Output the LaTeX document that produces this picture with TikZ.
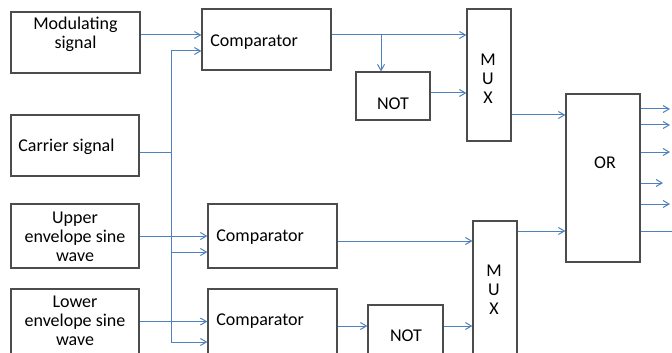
\documentclass[tikz,border=0pt]{standalone}
\usepackage{fontspec}
\setmainfont{Carlito}
\usetikzlibrary{arrows.meta}
\definecolor{wireblue}{RGB}{79,129,189}
\tikzset{
  blk/.style={draw=black!70, line width=0.65pt, inner sep=0pt},
  txt/.style={font=\fontsize{9}{9.5}\selectfont, inner sep=0pt, align=center},
  wire/.style={draw=wireblue, line width=0.5pt},
  >={Straight Barb[length=3pt,width=3.5pt]}
}
\begin{document}
\begin{tikzpicture}[x=0.5pt, y=-0.5pt]
    \useasboundingbox (0,0) rectangle (672,352);
    % sources
    \node[blk, minimum width=64.5pt, minimum height=30.5pt] (mod) at (75.5,42.5) {};
    \node[blk, minimum width=64pt, minimum height=30.5pt] (car) at (75,145.5) {};
    \node[blk, minimum width=64pt, minimum height=32pt] (upp) at (75,236) {};
    \node[blk, minimum width=64pt, minimum height=32.5pt] (low) at (75,321.5) {};
    \node[txt] at (75.5,34.5) {Modulating\\signal};
    \node[txt, anchor=mid west] at (18,147) {Carrier signal};
    \node[txt] at (75,237) {Upper\\envelope sine\\wave};
    \node[txt] at (75,321) {Lower\\envelope sine\\wave};
    % comparators
    \node[blk, minimum width=64.5pt, minimum height=30.5pt] (cmp1) at (266.5,39.5) {};
    \node[blk, minimum width=64.5pt, minimum height=32pt] (cmp2) at (272.5,236) {};
    \node[blk, minimum width=64.5pt, minimum height=32.5pt] (cmp3) at (272.5,321.5) {};
    \node[txt, anchor=mid west] at (210,42) {Comparator};
    \node[txt, anchor=mid west] at (216,237) {Comparator};
    \node[txt, anchor=mid west] at (216,321) {Comparator};
    % not gates, muxes, or
    \node[blk, minimum width=37pt, minimum height=24pt] (not1) at (393,96) {};
    \node[blk, minimum width=37.5pt, minimum height=24.5pt] (not2) at (405.5,329.5) {};
    \node[txt, anchor=mid] at (393,105) {NOT};
    \node[txt, anchor=mid] at (406,337) {NOT};
    \node[blk, minimum width=22pt, minimum height=66pt] (mux1) at (489,75) {};
    \node[blk, minimum width=22pt, minimum height=66.5pt] (mux2) at (495,287.5) {};
    \node[txt] at (488,79) {M\\U\\X};
    \node[txt] at (494,290) {M\\U\\X};
    \node[blk, minimum width=37pt, minimum height=84pt] (or) at (603,178) {};
    \node[txt, anchor=mid] at (605,164) {OR};

    % inputs
    \draw[wire,->] ([yshift=3.75pt]mod.east) -- ([yshift=3.75pt]mod.east -| cmp1.west);
    \coordinate (bus) at (171,152);
    \draw[wire] ([yshift=-3.25pt]car.east) -- (bus);
    \draw[wire,->] (bus) |- ([yshift=-5.75pt]cmp1.west);
    \draw[wire,->] (bus) |- ([yshift=-8pt]cmp2.west);
    \draw[wire,->] (bus) |- ([yshift=-10.25pt]cmp3.west);
    \draw[wire,->] (upp.east) -- (upp.east -| cmp2.west);
    \draw[wire,->] (low.east) -- (low.east -| cmp3.west);

    % upper path
    \draw[wire,->] ([yshift=2.25pt]cmp1.east) -- ([yshift=2.25pt]cmp1.east -| mux1.west);
    \coordinate (br1) at (381,35);
    \draw[wire,->] (br1) -- (br1 |- not1.north);
    \draw[wire,->] ([yshift=1.5pt]not1.east) -- ([yshift=1.5pt]not1.east -| mux1.west);
    \draw[wire,->] ([yshift=-20pt]mux1.east) -- ([yshift=-20pt]mux1.east -| or.west);

    % lower path
    \draw[wire,->] ([yshift=-2.5pt]cmp2.east) -- ([yshift=-2.5pt]cmp2.east -| mux2.west);
    \draw[wire,->] ([yshift=-2.25pt]cmp3.east) -- ([yshift=-2.25pt]cmp3.east -| not2.west);
    \draw[wire,->] ([yshift=1.75pt]not2.east) -- ([yshift=1.75pt]not2.east -| mux2.west);
    \draw[wire,->] ([yshift=28.25pt]mux2.east) -- ([yshift=28.25pt]mux2.east -| or.west);

    % outputs
    \foreach \yy/\xe [count=\i] in {109/670,125/670,152/670,183/663,204/670} {
      \coordinate (out\i) at (\xe,\yy);
      \draw[wire,->] (or.east |- out\i) -- (out\i);
    }
    \coordinate (out6) at (674,231);
    \draw[wire] (or.east |- out6) -- (out6);
\end{tikzpicture}
\end{document}
